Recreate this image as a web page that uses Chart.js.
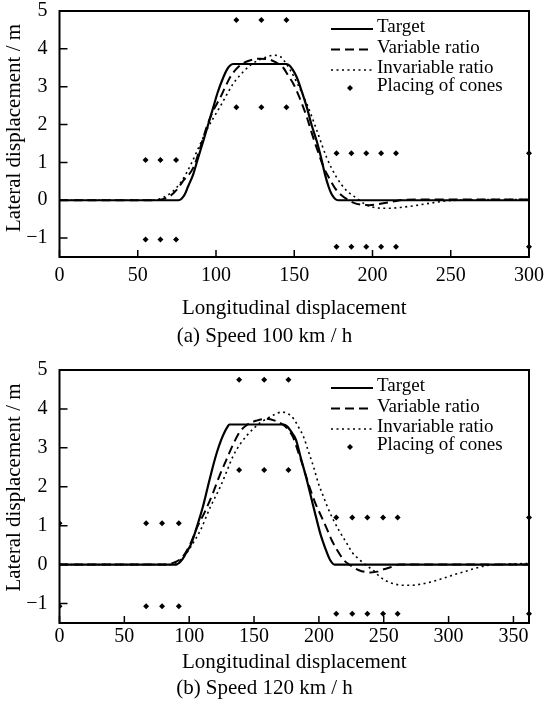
<!DOCTYPE html>
<html><head><meta charset="utf-8">
<script src="https://cdn.jsdelivr.net/npm/chart.js@4.4.1/dist/chart.umd.min.js"></script>
<style>
html,body{margin:0;padding:0;background:#fff;}
#wrap{position:relative;width:545px;height:706px;overflow:hidden;}
.box{position:absolute;left:0;width:545px;}
canvas{display:block;}
</style></head><body>
<div id="wrap">
<div class="box" style="top:0;height:350px"><canvas id="c1" width="545" height="350"></canvas></div>
<div class="box" style="top:350px;height:356px"><canvas id="c2" width="545" height="356"></canvas></div>
</div>
<script>
// ---------- texts / ticks ----------
const SERIES_LABELS = ['Target', 'Variable ratio', 'Invariable ratio', 'Placing of cones'];
const X_TITLE = 'Longitudinal displacement';
const Y_TITLE = 'Lateral displacement / m';
const CAPTION_A = '(a) Speed 100 km / h';
const CAPTION_B = '(b) Speed 120 km / h';
const Y_TICKS = [-1, 0, 1, 2, 3, 4, 5];
const X_TICKS_A = [0, 50, 100, 150, 200, 250, 300];
const X_TICKS_B = [0, 50, 100, 150, 200, 250, 300, 350];

// ---------- (a) 100 km/h ----------
const A_TARGET_X = [0, 70, 76, 78, 80, 82, 85.5, 88, 91.9, 95, 98.3, 101, 104.7, 107, 109, 111, 145, 147, 149, 151.6, 155, 158, 161, 164.3, 167, 169.6, 172, 174, 176, 178, 300];
const A_TARGET_Y = [0, 0, 0, 0.04, 0.15, 0.35, 0.69, 1.04, 1.57, 2.0, 2.46, 2.84, 3.25, 3.45, 3.56, 3.6, 3.6, 3.56, 3.45, 3.25, 2.85, 2.46, 2.0, 1.57, 1.15, 0.69, 0.35, 0.15, 0.04, 0, 0];
const A_VAR_X = [0, 60, 66, 70.6, 75, 79, 85.5, 90, 94, 98, 102.6, 106, 109, 113, 117.4, 122, 128, 134, 138, 143, 146, 149.4, 153, 158, 161, 165, 169, 172.8, 176, 180, 184, 188, 193, 198, 204, 210, 215, 220, 230, 300];
const A_VAR_Y = [0, 0, 0.03, 0.11, 0.28, 0.51, 0.86, 1.4, 1.93, 2.35, 2.7, 3.0, 3.25, 3.47, 3.62, 3.7, 3.74, 3.72, 3.65, 3.5, 3.3, 3.08, 2.75, 2.2, 1.8, 1.3, 0.85, 0.55, 0.32, 0.14, 0.02, -0.07, -0.12, -0.13, -0.1, -0.06, -0.02, 0.01, 0.02, 0.02];
const A_INV_X = [0, 60, 66, 72, 78, 84, 89, 94, 98, 103, 107, 111, 115.3, 118, 121.7, 127, 132, 137, 141, 144, 147.3, 152, 158, 164.3, 170.7, 177.1, 183.5, 190, 195, 200, 205, 212, 220, 226, 235, 247, 260, 300];
const A_INV_Y = [0, 0, 0.07, 0.22, 0.5, 0.95, 1.4, 1.85, 2.15, 2.5, 2.8, 3.08, 3.3, 3.42, 3.56, 3.7, 3.78, 3.83, 3.8, 3.66, 3.45, 3.08, 2.55, 1.86, 1.13, 0.6, 0.25, 0.05, -0.1, -0.18, -0.21, -0.21, -0.18, -0.15, -0.09, -0.02, 0.01, 0.02];
const A_CONE_X = [55, 64.5, 74.5, 55, 64.5, 74.5, 113, 129, 145, 113, 129, 145, 177, 186.5, 196, 205.5, 215, 177, 186.5, 196, 205.5, 215, 300, 300];
const A_CONE_Y = [1.06, 1.06, 1.06, -1.04, -1.04, -1.04, 4.76, 4.76, 4.76, 2.46, 2.46, 2.46, 1.24, 1.24, 1.24, 1.24, 1.24, -1.23, -1.23, -1.23, -1.23, -1.23, 1.24, -1.23];

// ---------- (b) 120 km/h ----------
const B_TARGET_X = [0, 85, 90, 92, 95, 98, 101.6, 106, 110.5, 114, 118.2, 121.5, 124.6, 127.5, 129.5, 131, 173, 175.5, 178, 180, 182.4, 186, 190.1, 194, 197.8, 201.5, 205.5, 208, 210, 212, 362];
const B_TARGET_Y = [0, 0, 0, 0.04, 0.15, 0.32, 0.54, 0.98, 1.48, 1.95, 2.51, 2.9, 3.2, 3.42, 3.54, 3.6, 3.6, 3.55, 3.45, 3.35, 3.2, 2.75, 2.25, 1.73, 1.22, 0.75, 0.37, 0.16, 0.05, 0, 0];
const B_VAR_X = [0, 80, 88, 95, 101, 106, 112, 118.2, 123, 128.5, 134, 139, 145, 152, 159.4, 166, 172, 176, 180, 184, 188, 192.7, 197, 201, 205.5, 210, 215.8, 220, 223.5, 228, 233, 240, 245, 250, 256, 262, 362];
const B_VAR_Y = [0, 0, 0.05, 0.2, 0.54, 0.95, 1.35, 1.83, 2.25, 2.68, 3.1, 3.41, 3.6, 3.7, 3.75, 3.7, 3.6, 3.48, 3.28, 2.9, 2.5, 2.0, 1.6, 1.3, 0.97, 0.62, 0.28, 0.09, 0, -0.1, -0.17, -0.2, -0.18, -0.12, -0.06, 0, 0];
const B_INV_X = [0, 85, 90, 95.8, 102, 108.6, 116.3, 124, 129, 134, 139, 144, 149.7, 155, 160, 166, 171.6, 176, 180.5, 184, 188.2, 192, 195.9, 199.5, 203.6, 207, 211.3, 216, 221.6, 226, 231.9, 237, 242, 247.3, 252, 257.6, 265, 272, 279, 285.8, 292, 298.7, 305, 311.5, 318, 324.3, 330, 337, 362];
const B_INV_Y = [0, 0, 0.05, 0.2, 0.5, 0.88, 1.48, 2.0, 2.4, 2.8, 3.08, 3.3, 3.5, 3.65, 3.75, 3.86, 3.92, 3.88, 3.75, 3.55, 3.28, 2.9, 2.51, 2.1, 1.74, 1.45, 1.14, 0.85, 0.54, 0.3, 0.11, -0.03, -0.15, -0.32, -0.42, -0.49, -0.53, -0.53, -0.5, -0.45, -0.39, -0.32, -0.25, -0.19, -0.12, -0.06, -0.02, 0, 0.03];
const B_CONE_X = [0, 66.8, 79.1, 92, 0, 66.8, 79.1, 92, 138.5, 157.8, 176.5, 138.5, 157.8, 176.5, 213.4, 225.7, 237.4, 249.5, 260.7, 213.4, 225.7, 237.4, 249.5, 260.7, 362, 362];
const B_CONE_Y = [1.06, 1.06, 1.06, 1.06, -1.07, -1.07, -1.07, -1.07, 4.75, 4.75, 4.75, 2.43, 2.43, 2.43, 1.21, 1.21, 1.21, 1.21, 1.21, -1.26, -1.26, -1.26, -1.26, -1.26, 1.21, -1.26];

// ---------- rendering ----------
const FONT = "'Liberation Serif', 'Times New Roman', serif";
Chart.defaults.font.family = FONT;
Chart.defaults.color = '#000';

function pts(xs, ys) { return xs.map((x, i) => ({x: x, y: ys[i]})); }

const frameTicks = {
  id: 'frameTicks',
  afterDatasetsDraw(chart) {
    const {ctx, chartArea: a, scales: {x, y}} = chart;
    ctx.save();
    ctx.strokeStyle = '#000';
    ctx.setLineDash([]);
    ctx.lineWidth = 1.5;
    ctx.beginPath();
    x.ticks.forEach(t => { const p = x.getPixelForValue(t.value); ctx.moveTo(p, a.bottom); ctx.lineTo(p, a.bottom - 7); });
    y.ticks.forEach(t => { const p = y.getPixelForValue(t.value); ctx.moveTo(a.left, p); ctx.lineTo(a.left + 8, p); });
    ctx.stroke();
    ctx.lineWidth = 2;
    ctx.strokeRect(a.left, a.top, a.right - a.left, a.bottom - a.top);
    ctx.restore();
  }
};

// y-axis title, drawn a little above the plot centre as in the reference
const yTitle = {
  id: 'yTitle',
  afterDraw(chart, args, o) {
    const {ctx, chartArea: a} = chart;
    ctx.save();
    ctx.translate(o.x, (a.top + a.bottom) / 2 + o.shift);
    ctx.rotate(-Math.PI / 2);
    ctx.font = '21px ' + FONT;
    ctx.fillStyle = '#000';
    ctx.textAlign = 'center';
    ctx.textBaseline = 'middle';
    ctx.fillText(o.text, 0, 0);
    ctx.restore();
  }
};

const innerLegend = {
  id: 'innerLegend',
  afterDraw(chart, args, o) {
    const {ctx, chartArea: a} = chart;
    ctx.save();
    ctx.font = o.fontSize + 'px ' + FONT;
    ctx.fillStyle = '#000';
    ctx.strokeStyle = '#000';
    ctx.textBaseline = 'middle';
    ctx.textAlign = 'left';
    chart.data.datasets.forEach((ds, i) => {
      const yy = a.top + o.rows[i];
      if (ds.showLine === false) {
        const r = ds.pointRadius;
        ctx.beginPath();
        ctx.moveTo(o.markX, yy - r + 1.5); ctx.lineTo(o.markX + r, yy + 1.5);
        ctx.lineTo(o.markX, yy + r + 1.5); ctx.lineTo(o.markX - r, yy + 1.5);
        ctx.closePath(); ctx.fill();
      } else {
        ctx.setLineDash(ds.borderDash || []);
        ctx.lineWidth = ds.borderWidth;
        ctx.beginPath();
        ctx.moveTo(o.x0, yy + 1.5); ctx.lineTo(o.x1, yy + 1.5);
        ctx.stroke();
      }
      ctx.setLineDash([]);
      ctx.fillText(ds.label, o.textX, yy);
    });
    ctx.restore();
  }
};

function makeChart(id, d) {
  const lineBase = {pointRadius: 0, fill: false, borderColor: '#000', cubicInterpolationMode: 'monotone'};
  return new Chart(document.getElementById(id), {
    type: 'line',
    data: {
      datasets: [
        Object.assign({label: SERIES_LABELS[0], data: pts(d.tx, d.ty), borderWidth: 2.2}, lineBase),
        Object.assign({label: SERIES_LABELS[1], data: pts(d.vx, d.vy), borderWidth: 2, borderDash: [9, 5]}, lineBase),
        Object.assign({label: SERIES_LABELS[2], data: pts(d.ix, d.iy), borderWidth: 1.6, borderDash: [2, 3.5]}, lineBase),
        {label: SERIES_LABELS[3], data: pts(d.cx, d.cy), showLine: false, pointStyle: 'rectRot',
         pointRadius: 3, backgroundColor: '#000', borderColor: '#000', borderWidth: 0,
         clip: {left: 0, top: 6, right: 6, bottom: 6}}
      ]
    },
    options: {
      responsive: false, animation: false, events: [],
      layout: {padding: {left: 0, right: 16, top: d.padTop, bottom: 0}},
      plugins: {
        legend: {display: false}, tooltip: {enabled: false},
        title: {display: true, position: 'bottom', text: d.caption, color: '#000',
                font: {size: 21, weight: 'normal', lineHeight: 1.2}, padding: {top: 0, bottom: d.capPad}},
        innerLegend: {rows: [16.5, 37, 57.5, 75.5], x0: 331, x1: 373, textX: 377, markX: 350, fontSize: 19},
        yTitle: {text: Y_TITLE, x: 14, shift: d.yTitleShift}
      },
      scales: {
        x: {
          type: 'linear', min: 0, max: d.xMax,
          afterBuildTicks: s => { s.ticks = d.xTicks.map(v => ({value: v})); },
          afterFit: s => { s.height = d.xHeight; s.paddingLeft = 0; s.paddingRight = 0; },
          grid: {display: false, drawTicks: false}, border: {display: false},
          ticks: {padding: d.xTickPad, color: '#000', font: {size: 20, lineHeight: 1.2}, maxRotation: 0, autoSkip: false},
          title: {display: true, text: X_TITLE, color: '#000', font: {size: 21, lineHeight: 1.2}, padding: {top: 0, bottom: d.xTitlePad}}
        },
        y: {
          type: 'linear', min: -1.5, max: 5,
          afterBuildTicks: s => { s.ticks = Y_TICKS.map(v => ({value: v})); },
          afterFit: s => { s.width = 59.5; s.paddingTop = 0; s.paddingBottom = 0; },
          grid: {display: false, drawTicks: false}, border: {display: false},
          ticks: {padding: 12, color: '#000', font: {size: 20, lineHeight: 1.2},
                  callback: v => (v < 0 ? '\u2212' + Math.abs(v) : String(v))},
          title: {display: false}
        }
      }
    },
    plugins: [frameTicks, innerLegend, yTitle]
  });
}

makeChart('c1', {
  tx: A_TARGET_X, ty: A_TARGET_Y, vx: A_VAR_X, vy: A_VAR_Y, ix: A_INV_X, iy: A_INV_Y, cx: A_CONE_X, cy: A_CONE_Y,
  xMax: 300, xTicks: X_TICKS_A, caption: CAPTION_A,
  padTop: 11, capPad: 1.4, xHeight: 66.4, xTickPad: 6.5, xTitlePad: 2.5, yTitleShift: -6
});
makeChart('c2', {
  tx: B_TARGET_X, ty: B_TARGET_Y, vx: B_VAR_X, vy: B_VAR_Y, ix: B_INV_X, iy: B_INV_Y, cx: B_CONE_X, cy: B_CONE_Y,
  xMax: 362, xTicks: X_TICKS_B, caption: CAPTION_B,
  padTop: 20, capPad: 5.1, xHeight: 52.7, xTickPad: 2, xTitlePad: 0.4, yTitleShift: -9
});
</script>
</body></html>
